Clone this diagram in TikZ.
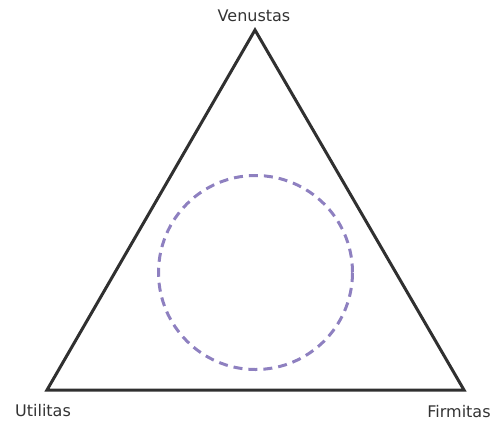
\documentclass[tikz,border=0pt]{standalone}
\usepackage{fontspec}
\setmainfont{DejaVu Sans}
\definecolor{tri}{HTML}{303030}
\definecolor{circ}{HTML}{8E80C0}
\begin{document}
\begin{tikzpicture}[x=1pt,y=-1pt,
  lbl/.style={font=\fontsize{16}{18}\selectfont, text=black!80, inner sep=0pt},
  side/.style={draw=tri, line width=3pt, line join=miter}]
\useasboundingbox (0,0) rectangle (502,421);
\coordinate (V) at (255,30);
\coordinate (U) at (47,390);
\coordinate (F) at (464,390);
\draw[side] (V) -- (U) -- (F) -- cycle;
\node[draw=circ, line width=3pt, dash pattern=on 9pt off 6pt, circle, minimum size=194pt, inner sep=0pt] (c) at (255.5,272.5) {};
\node[lbl] (v) at (254,16) {Venustas};
\node[lbl] (u) at (43,411) {Utilitas};
\node[lbl] (f) at (459,412) {Firmitas};
\end{tikzpicture}
\end{document}
